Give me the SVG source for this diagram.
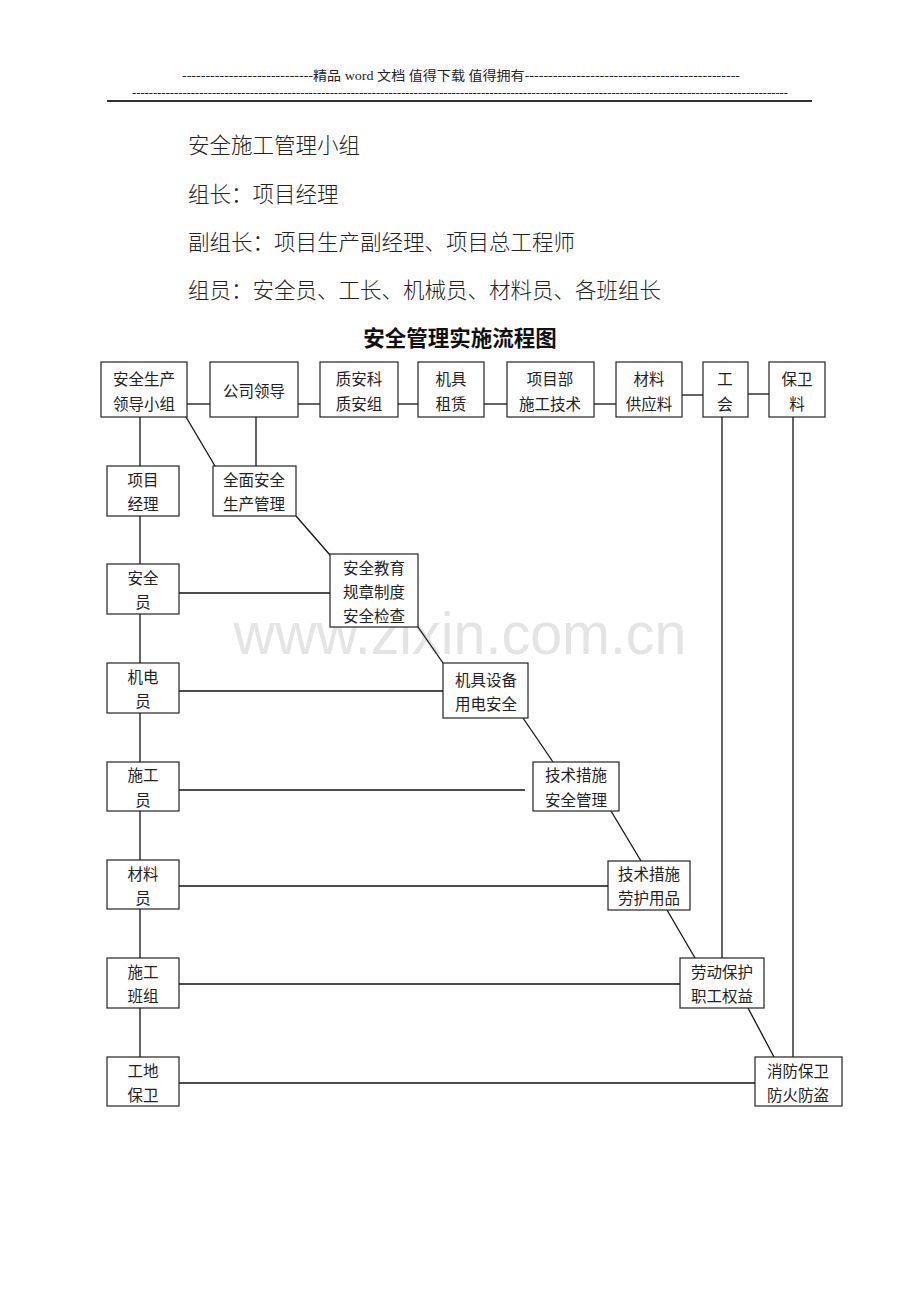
<svg xmlns="http://www.w3.org/2000/svg" width="920" height="1302" viewBox="0 0 920 1302">
<style>
.bx{fill:#fff;stroke:#222;stroke-width:1.2}
.t{font-family:"Noto Sans CJK SC","Liberation Serif",serif;font-size:15.5px;fill:#222;text-anchor:middle;dominant-baseline:central}
.c{stroke:#111;stroke-width:1.3;fill:none}
.body{font-family:"Noto Sans CJK SC",serif;font-size:21.5px;fill:#222;font-weight:300}
.hd{font-family:"Liberation Serif","Noto Sans CJK SC",serif;font-size:13px;fill:#222}
</style>
<rect width="920" height="1302" fill="#fff"/>
<text x="461" y="80" class="hd" text-anchor="middle" textLength="558" lengthAdjust="spacingAndGlyphs">----------------------------精品 word 文档 值得下载 值得拥有----------------------------------------------</text>
<text x="460" y="97" class="hd" text-anchor="middle" textLength="656" lengthAdjust="spacingAndGlyphs">------------------------------------------------------------------------------------------------------------------------------------------------------------</text>
<line x1="107" y1="101" x2="812" y2="101" stroke="#333" stroke-width="2"/>
<text x="188" y="153" class="body">安全施工管理小组</text>
<text x="188" y="202" class="body">组长：项目经理</text>
<text x="188" y="250" class="body">副组长：项目生产副经理、项目总工程师</text>
<text x="188" y="298" class="body">组员：安全员、工长、机械员、材料员、各班组长</text>
<text x="460" y="346" font-family="Noto Sans CJK SC,sans-serif" font-size="21.5" font-weight="bold" text-anchor="middle" fill="#111">安全管理实施流程图</text>
<text x="460" y="654" font-family="Liberation Sans,Arial,sans-serif" font-size="60" fill="#e4e4e4" text-anchor="middle" textLength="453" lengthAdjust="spacingAndGlyphs">www.zixin.com.cn</text>
<g id="connectors">
<line class="c" x1="187" y1="404" x2="210" y2="404"/>
<line class="c" x1="298" y1="404" x2="320" y2="404"/>
<line class="c" x1="398" y1="404" x2="418" y2="404"/>
<line class="c" x1="484" y1="404" x2="507" y2="404"/>
<line class="c" x1="594" y1="404" x2="616" y2="404"/>
<line class="c" x1="682" y1="395" x2="703" y2="395"/>
<line class="c" x1="748" y1="394" x2="769" y2="394"/>
<line class="c" x1="140" y1="417" x2="140" y2="1057"/>
<line class="c" x1="256" y1="417" x2="256" y2="466"/>
<line class="c" x1="186" y1="417" x2="215" y2="466"/>
<line class="c" x1="296" y1="516" x2="330" y2="555"/>
<line class="c" x1="179" y1="593" x2="330" y2="593"/>
<line class="c" x1="418" y1="627" x2="443" y2="663"/>
<line class="c" x1="179" y1="691" x2="443" y2="691"/>
<line class="c" x1="523" y1="718" x2="553" y2="762"/>
<line class="c" x1="179" y1="790" x2="525" y2="790"/>
<line class="c" x1="611" y1="811" x2="641" y2="861"/>
<line class="c" x1="179" y1="886" x2="608" y2="886"/>
<line class="c" x1="667" y1="910" x2="695" y2="958"/>
<line class="c" x1="722" y1="417" x2="722" y2="958"/>
<line class="c" x1="793" y1="417" x2="793" y2="1057"/>
<line class="c" x1="179" y1="984" x2="680" y2="984"/>
<line class="c" x1="748" y1="1008" x2="774" y2="1057"/>
<line class="c" x1="179" y1="1083" x2="755" y2="1083"/>
</g>
<g id="n1"><rect class="bx" x="101" y="362" width="86" height="55"/><text class="t" x="144" y="378">安全生产</text><text class="t" x="144" y="403">领导小组</text></g>
<g id="n2"><rect class="bx" x="210" y="362" width="88" height="55"/><text class="t" x="254" y="390">公司领导</text></g>
<g id="n3"><rect class="bx" x="320" y="362" width="78" height="55"/><text class="t" x="359" y="378">质安科</text><text class="t" x="359" y="403">质安组</text></g>
<g id="n4"><rect class="bx" x="418" y="362" width="66" height="55"/><text class="t" x="451" y="378">机具</text><text class="t" x="451" y="403">租赁</text></g>
<g id="n5"><rect class="bx" x="507" y="362" width="87" height="55"/><text class="t" x="550" y="378">项目部</text><text class="t" x="550" y="403">施工技术</text></g>
<g id="n6"><rect class="bx" x="616" y="362" width="66" height="55"/><text class="t" x="649" y="378">材料</text><text class="t" x="649" y="403">供应料</text></g>
<g id="n7"><rect class="bx" x="703" y="362" width="45" height="55"/><text class="t" x="725" y="378">工</text><text class="t" x="725" y="403">会</text></g>
<g id="n8"><rect class="bx" x="769" y="362" width="56" height="55"/><text class="t" x="797" y="378">保卫</text><text class="t" x="797" y="403">料</text></g>
<g id="n9"><rect class="bx" x="107" y="466" width="72" height="50"/><text class="t" x="143" y="479">项目</text><text class="t" x="143" y="503">经理</text></g>
<g id="n10"><rect class="bx" x="213" y="466" width="83" height="50"/><text class="t" x="254" y="479">全面安全</text><text class="t" x="254" y="503">生产管理</text></g>
<g id="n11"><rect class="bx" x="107" y="564" width="72" height="50"/><text class="t" x="143" y="577">安全</text><text class="t" x="143" y="601">员</text></g>
<g id="n12"><rect class="bx" x="330" y="554" width="88" height="73"/><text class="t" x="374" y="567">安全教育</text><text class="t" x="374" y="591">规章制度</text><text class="t" x="374" y="615">安全检查</text></g>
<g id="n13"><rect class="bx" x="107" y="663" width="72" height="50"/><text class="t" x="143" y="676">机电</text><text class="t" x="143" y="700">员</text></g>
<g id="n14"><rect class="bx" x="443" y="663" width="85" height="55"/><text class="t" x="486" y="679">机具设备</text><text class="t" x="486" y="703">用电安全</text></g>
<g id="n15"><rect class="bx" x="107" y="762" width="72" height="49"/><text class="t" x="143" y="774">施工</text><text class="t" x="143" y="799">员</text></g>
<g id="n16"><rect class="bx" x="533" y="762" width="86" height="49"/><text class="t" x="576" y="774">技术措施</text><text class="t" x="576" y="799">安全管理</text></g>
<g id="n17"><rect class="bx" x="107" y="860" width="72" height="49"/><text class="t" x="143" y="873">材料</text><text class="t" x="143" y="897">员</text></g>
<g id="n18"><rect class="bx" x="608" y="861" width="82" height="49"/><text class="t" x="649" y="873">技术措施</text><text class="t" x="649" y="897">劳护用品</text></g>
<g id="n19"><rect class="bx" x="107" y="958" width="72" height="50"/><text class="t" x="143" y="971">施工</text><text class="t" x="143" y="995">班组</text></g>
<g id="n20"><rect class="bx" x="680" y="958" width="84" height="50"/><text class="t" x="722" y="971">劳动保护</text><text class="t" x="722" y="995">职工权益</text></g>
<g id="n21"><rect class="bx" x="107" y="1057" width="72" height="49"/><text class="t" x="143" y="1070">工地</text><text class="t" x="143" y="1094">保卫</text></g>
<g id="n22"><rect class="bx" x="755" y="1057" width="87" height="49"/><text class="t" x="798" y="1070">消防保卫</text><text class="t" x="798" y="1094">防火防盗</text></g>
</svg>
